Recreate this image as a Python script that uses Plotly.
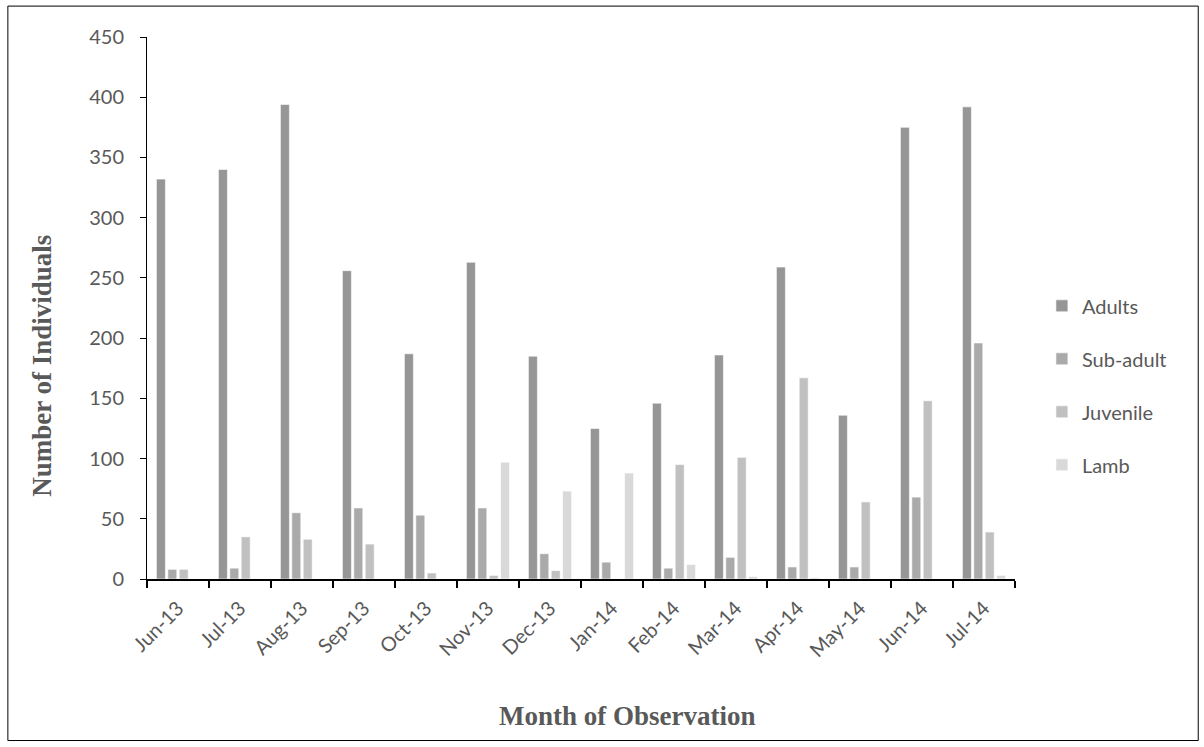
import plotly.graph_objects as go

months = ["Jun-13", "Jul-13", "Aug-13", "Sep-13", "Oct-13", "Nov-13", "Dec-13",
          "Jan-14", "Feb-14", "Mar-14", "Apr-14", "May-14", "Jun-14", "Jul-14"]
adults = [332, 340, 394, 256, 187, 263, 185, 125, 146, 186, 259, 136, 375, 392]
sub_adult = [8, 9, 55, 59, 53, 59, 21, 14, 9, 18, 10, 10, 68, 196]
juvenile = [8, 35, 33, 29, 5, 3, 7, 0, 95, 101, 167, 64, 148, 39]
lamb = [0, 0, 0, 0, 0, 97, 73, 88, 12, 2, 1, 0, 0, 3]

series = [
    ("Adults", adults, "#969696"),
    ("Sub-adult", sub_adult, "#aaaaaa"),
    ("Juvenile", juvenile, "#c0c0c0"),
    ("Lamb", lamb, "#d9d9d9"),
]

sans = "Lato, 'Open Sans', sans-serif"
tick_font = dict(family=sans, size=20, color="#595959")
legend_font = dict(family=sans, size=20, color="#595959")
title_font = dict(family="'Liberation Serif', 'Times New Roman', serif", size=27, color="#595959")

fig = go.Figure()
for name, vals, color in series:
    fig.add_trace(go.Bar(
        x=months, y=vals, name=name, legendgroup=name,
        marker=dict(color=color, line=dict(color="#ffffff", width=0.6)),
    ))

fig.update_layout(
    width=1204, height=747,
    margin=dict(l=147, r=189, t=37, b=168),
    paper_bgcolor="white", plot_bgcolor="white",
    barmode="group", bargap=0.265, bargroupgap=0.21,
    showlegend=True,
    legend=dict(x=1.031, y=0.54, xanchor="left", yanchor="top",
                font=legend_font, tracegroupgap=24,
                bgcolor="rgba(0,0,0,0)"),
    xaxis=dict(
        showline=True, linecolor="black", linewidth=1.5,
        ticks="outside", tickson="boundaries", ticklen=7, tickcolor="black",
        tickwidth=1.5, tickangle=-45, tickfont=tick_font, ticklabelstandoff=8,
        showgrid=False,
    ),
    yaxis=dict(
        range=[0, 450], dtick=50, showline=True, linecolor="black", linewidth=1,
        ticks="outside", ticklen=6, tickcolor="black", tickfont=tick_font,
        ticklabelstandoff=12,
        showgrid=False, zeroline=False,
    ),
    annotations=[
        dict(text="<b>Month of Observation</b>", font=title_font, showarrow=False,
             xref="paper", yref="paper", x=0.5536, y=-0.2523,
             xanchor="center", yanchor="middle"),
        dict(text="<b>Number of Individuals</b>", font=title_font, showarrow=False,
             xref="paper", yref="paper", x=-0.1205, y=0.394, textangle=-90,
             xanchor="center", yanchor="middle"),
    ],
    shapes=[dict(type="rect", xref="paper", yref="paper",
                 x0=-0.1603, x1=1.2111, y0=-0.298, y1=1.057,
                 line=dict(color="black", width=1), fillcolor="rgba(0,0,0,0)")],
)

fig.write_html("out.html")
